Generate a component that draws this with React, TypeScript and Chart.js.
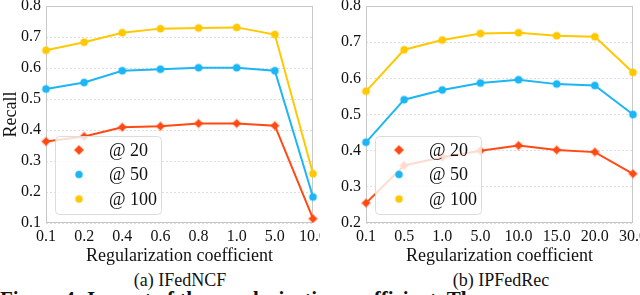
import React, { useEffect, useRef } from "react";
import { Chart, registerables } from "chart.js";

Chart.register(...registerables);

const labelsA = ["0.1", "0.2", "0.4", "0.6", "0.8", "1.0", "5.0", "10.0"];
const recall20A = [0.363, 0.379, 0.409, 0.412, 0.421, 0.421, 0.414, 0.114];
const recall50A = [0.532, 0.553, 0.591, 0.596, 0.601, 0.601, 0.591, 0.184];
const recall100A = [0.657, 0.683, 0.714, 0.727, 0.729, 0.731, 0.708, 0.259];

const labelsB = ["0.1", "0.5", "1.0", "5.0", "10.0", "15.0", "20.0", "30.0"];
const recall20B = [0.255, 0.359, 0.382, 0.4, 0.414, 0.402, 0.396, 0.336];
const recall50B = [0.423, 0.541, 0.568, 0.587, 0.596, 0.584, 0.58, 0.5];
const recall100B = [0.564, 0.679, 0.706, 0.724, 0.726, 0.718, 0.715, 0.616];

const seriesNames = ["@ 20", "@ 50", "@ 100"];
const colors = ["#ff4a14", "#1cb6f5", "#ffc800"];
const halos = ["rgba(255,74,20,0.35)", "rgba(28,182,245,0.35)", "rgba(255,200,0,0.35)"];
const styles = ["rectRot", "circle", "circle"];

const SERIF = '"Liberation Serif", "Times New Roman", Times, serif';

const framePlugin = {
  id: "frame",
  beforeDatasetsDraw(chart: any) {
    const { ctx, chartArea: a } = chart;
    ctx.save();
    ctx.strokeStyle = "#c8c8c8";
    ctx.lineWidth = 1;
    ctx.strokeRect(a.left + 0.5, a.top + 0.5, a.right - a.left - 1, a.bottom - a.top - 1);
    ctx.restore();
  },
};

const legendPlugin = {
  id: "customLegend",
  afterDatasetsDraw(chart: any) {
    const { ctx, chartArea: a } = chart;
    const x = a.left + 9;
    const y = 136;
    const w = 106;
    const h = 78;
    ctx.save();
    ctx.beginPath();
    (ctx as any).roundRect(x + 0.5, y + 0.5, w, h, 4);
    ctx.fillStyle = "rgba(255,255,255,0.8)";
    ctx.fill();
    ctx.strokeStyle = "#dcdcdc";
    ctx.lineWidth = 1;
    ctx.stroke();
    chart.data.datasets.forEach((ds: any, i: number) => {
      const cy = y + 14 + i * 24.5;
      const cx = x + 24;
      ctx.fillStyle = ds.borderColor;
      ctx.strokeStyle = ds.pointBorderColor;
      ctx.lineWidth = 1.5;
      ctx.beginPath();
      if (ds.pointStyle === "rectRot") {
        const r = 4.5;
        ctx.moveTo(cx, cy - r);
        ctx.lineTo(cx + r, cy);
        ctx.lineTo(cx, cy + r);
        ctx.lineTo(cx - r, cy);
        ctx.closePath();
      } else {
        ctx.arc(cx, cy, 3.5, 0, Math.PI * 2);
      }
      ctx.fill();
      ctx.stroke();
      ctx.fillStyle = "#111";
      ctx.font = `18px ${SERIF}`;
      ctx.textBaseline = "middle";
      ctx.textAlign = "left";
      ctx.fillText(ds.label, x + 54, cy + 1);
    });
    ctx.restore();
  },
};

function makeConfig(labels: string[], data: number[][], yMin: number, showYTitle: boolean) {
  return {
    type: "line" as const,
    data: {
      labels,
      datasets: data.map((d, i) => ({
        label: seriesNames[i],
        data: d,
        borderColor: colors[i],
        backgroundColor: colors[i],
        pointBackgroundColor: colors[i],
        pointBorderColor: halos[i],
        pointBorderWidth: 2,
        pointRadius: styles[i] === "rectRot" ? 4 : 3.5,
        pointStyle: styles[i],
        borderWidth: 2,
        tension: 0,
        fill: false,
      })),
    },
    options: {
      animation: false,
      responsive: false,
      maintainAspectRatio: false,
      layout: { padding: { top: 5, right: 7, left: 0, bottom: 0 } },
      plugins: { legend: { display: false }, tooltip: { enabled: false } },
      scales: {
        x: {
          type: "category",
          offset: false,
          grid: { display: false, drawTicks: false },
          border: { display: false },
          ticks: {
            color: "#111",
            font: { family: SERIF, size: 16 },
            padding: 4,
            maxRotation: 0,
            autoSkip: false,
          },
          title: {
            display: true,
            text: "Regularization coefficient",
            color: "#111",
            font: { family: SERIF, size: 18 },
            padding: { top: 0, bottom: 3 },
          },
          afterFit(scale: any) {
            scale.height = 47;
            scale.paddingLeft = 0;
            scale.paddingRight = 0;
          },
        },
        y: {
          min: yMin,
          max: 0.8,
          grid: {
            color: "#dedede",
            drawTicks: false,
          },
          border: { display: false, dash: [2, 2] },
          ticks: {
            stepSize: 0.1,
            color: "#111",
            font: { family: SERIF, size: 16 },
            padding: 5,
            callback: (v: number) => v.toFixed(1),
          },
          title: {
            display: showYTitle,
            text: "Recall",
            color: "#111",
            font: { family: SERIF, size: 18 },
            padding: { top: 0, bottom: 0 },
          },
          afterFit(scale: any) {
            scale.width = 46;
            scale.paddingTop = 0;
            scale.paddingBottom = 0;
          },
        },
      },
    },
    plugins: [framePlugin, legendPlugin],
  };
}

function Panel({ config, left }: { config: any; left: number }) {
  const ref = useRef<HTMLCanvasElement>(null);
  useEffect(() => {
    if (!ref.current) return;
    const chart = new Chart(ref.current, config);
    return () => chart.destroy();
  }, [config]);
  return (
    <canvas
      ref={ref}
      width={320}
      height={270}
      style={{ position: "absolute", left, top: 0, width: 320, height: 270 }}
    />
  );
}

const configA = makeConfig(labelsA, [recall20A, recall50A, recall100A], 0.1, true);
const configB = makeConfig(labelsB, [recall20B, recall50B, recall100B], 0.2, false);

const subStyle: React.CSSProperties = {
  position: "absolute",
  width: 200,
  top: 270,
  textAlign: "center",
  fontSize: 18,
  color: "#111",
  lineHeight: "20px",
};

export default function App() {
  return (
    <div
      style={{
        position: "absolute",
        left: 0,
        top: 0,
        width: 640,
        height: 295,
        overflow: "hidden",
        background: "#fff",
        fontFamily: SERIF,
      }}
    >
      <Panel config={configA} left={0} />
      <Panel config={configB} left={320} />
      <div style={{ ...subStyle, left: 80 }}>(a) IFedNCF</div>
      <div style={{ ...subStyle, left: 401 }}>(b) IPFedRec</div>
      <div
        style={{
          position: "absolute",
          left: 0,
          top: 288,
          whiteSpace: "nowrap",
          fontSize: 21,
          fontWeight: "bold",
          color: "#111",
          lineHeight: "22px",
        }}
      >
        Figure 4: Impact of the regularization coefficient. The
      </div>
    </div>
  );
}
